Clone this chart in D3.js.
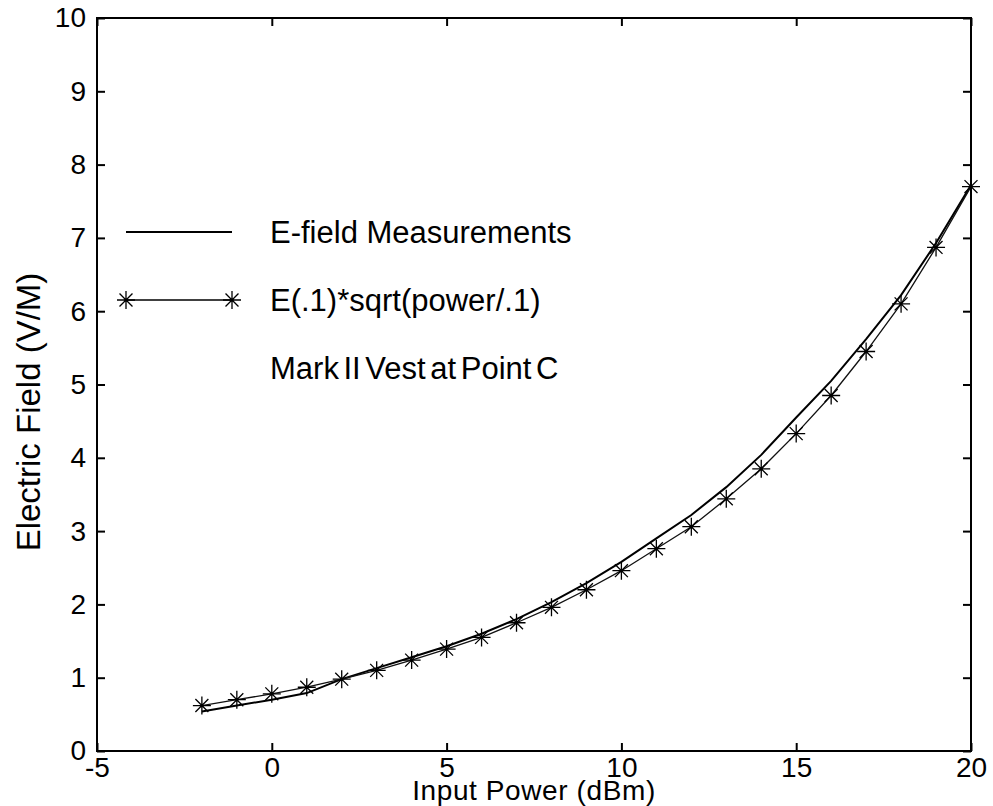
<!DOCTYPE html>
<html><head><meta charset="utf-8">
<script src="https://cdn.jsdelivr.net/npm/d3@7"></script>
<style>
body{margin:0;background:#fff;}
svg{display:block;font-family:"Liberation Sans",Arial,Helvetica,sans-serif;}
</style></head>
<body>
<svg id="c" width="993" height="806"></svg>
<script>
const powerDbm = [-2,-1,0,1,2,3,4,5,6,7,8,9,10,11,12,13,14,15,16,17,18,19,20];
const measured = [0.54,0.62,0.70,0.79,0.98,1.13,1.28,1.43,1.60,1.80,2.03,2.29,2.58,2.90,3.22,3.60,4.04,4.55,5.05,5.62,6.22,6.93,7.72];
const computed = [0.62,0.70,0.78,0.87,0.98,1.10,1.24,1.39,1.55,1.75,1.96,2.20,2.46,2.76,3.06,3.44,3.85,4.33,4.85,5.45,6.10,6.87,7.70];
const xTicks = [-5,0,5,10,15,20];
const yTicks = [0,1,2,3,4,5,6,7,8,9,10];
const legendLabels = ["E-field Measurements","E(.1)*sqrt(power/.1)","Mark II Vest at Point C"];
const xLabel = "Input Power (dBm)";
const yLabel = "Electric Field (V/M)";

const svg = d3.select("#c");
const L=97,R=971,T=18,B=751;
const x = d3.scaleLinear().domain([-5,20]).range([L,R]);
const y = d3.scaleLinear().domain([0,10]).range([B,T]);
const tk=8;

svg.append("rect").attr("x",L).attr("y",T).attr("width",R-L).attr("height",B-T)
  .attr("fill","none").attr("stroke","#000").attr("stroke-width",2);

const fs=28;
const fmt=d=>String(d);
const gx=svg.append("g").attr("transform",`translate(0,${B})`)
  .call(d3.axisBottom(x).tickValues(xTicks).tickSize(-tk).tickPadding(12).tickFormat(fmt));
const gxt=svg.append("g").attr("transform",`translate(0,${T})`)
  .call(d3.axisTop(x).tickValues(xTicks).tickSize(-tk).tickFormat(""));
const gy=svg.append("g").attr("transform",`translate(${L},0)`)
  .call(d3.axisLeft(y).tickValues(yTicks).tickSize(-tk).tickPadding(11).tickFormat(fmt));
const gyr=svg.append("g").attr("transform",`translate(${R},0)`)
  .call(d3.axisRight(y).tickValues(yTicks).tickSize(-tk).tickFormat(""));
[gx,gxt,gy,gyr].forEach(g=>{
  g.select(".domain").remove();
  g.selectAll(".tick line").attr("stroke","#000").attr("stroke-width",2);
  g.selectAll("text").attr("fill","#000").attr("font-size",fs).attr("font-family","Liberation Sans, Arial, sans-serif");
});
gx.selectAll("text").attr("y",26).attr("dy",0);

const line = d3.line().x((d,i)=>x(powerDbm[i])).y(d=>y(d));
svg.append("path").datum(measured).attr("d",line).attr("fill","none").attr("stroke","#000").attr("stroke-width",2);
svg.append("path").datum(computed).attr("d",line).attr("fill","none").attr("stroke","#111").attr("stroke-width",1.3);

function star(g,cx,cy,r){
  const a=r*0.72;
  const p=`M${cx-r},${cy}L${cx+r},${cy}M${cx},${cy-r}L${cx},${cy+r}M${cx-a},${cy-a}L${cx+a},${cy+a}M${cx-a},${cy+a}L${cx+a},${cy-a}`;
  g.append("path").attr("d",p).attr("stroke","#000").attr("stroke-width",1.3).attr("fill","none");
}
const sg=svg.append("g");
computed.forEach((v,i)=>star(sg,x(powerDbm[i]),y(v),9));

const lg=svg.append("g");
const lx1=126,lx2=232,tx=270;
const ly=[232,300,368];
lg.append("line").attr("x1",lx1).attr("x2",lx2).attr("y1",ly[0]).attr("y2",ly[0]).attr("stroke","#000").attr("stroke-width",2);
lg.append("line").attr("x1",lx1).attr("x2",lx2).attr("y1",ly[1]).attr("y2",ly[1]).attr("stroke","#000").attr("stroke-width",1.3);
star(lg,lx1,ly[1],9); star(lg,lx2,ly[1],9);
legendLabels.forEach((t,i)=>{
  const tt=lg.append("text").attr("x",tx).attr("y",ly[i]).attr("dy","0.35em").attr("font-size",31).attr("fill","#000").text(t);
  if(i===2) tt.attr("word-spacing",-4);
});

svg.append("text").attr("x",534).attr("y",800).attr("text-anchor","middle")
  .attr("font-size",28).attr("letter-spacing",0.6).text(xLabel);
svg.append("text").attr("transform",`translate(28,412) rotate(-90)`).attr("text-anchor","middle").attr("dy","0.35em")
  .attr("font-size",33).text(yLabel);
</script>
</body></html>
